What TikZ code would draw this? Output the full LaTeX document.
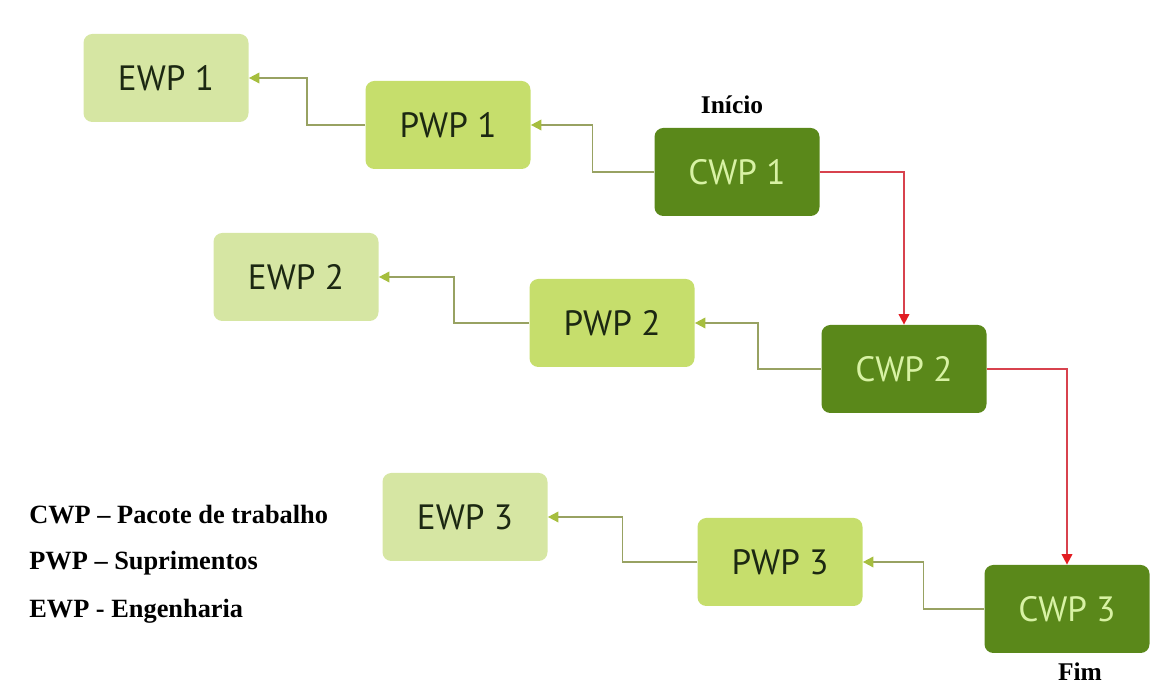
\documentclass[tikz,border=0pt]{standalone}
\usepackage{fontspec}
\setmainfont{Liberation Serif}
\newfontfamily\boxfont{PT Sans}
\usetikzlibrary{arrows.meta,calc,positioning}
\definecolor{ewpfill}{HTML}{D6E6A3}
\definecolor{pwpfill}{HTML}{C6DE6C}
\definecolor{cwpfill}{HTML}{5A881A}
\definecolor{cwptext}{HTML}{D8F2A4}
\definecolor{boxtext}{HTML}{1C2812}
\definecolor{linkline}{HTML}{98A262}
\definecolor{linktip}{HTML}{A6BE3E}
\definecolor{flowline}{HTML}{D8424E}
\definecolor{flowtip}{HTML}{E21C22}
\tikzset{
  pack/.style={rectangle, rounded corners=5pt, minimum width=3.3cm, minimum height=1.76cm,
    font=\boxfont\fontsize{20}{22}\selectfont, align=center},
  ewp/.style={pack, fill=ewpfill, text=boxtext},
  pwp/.style={pack, fill=pwpfill, text=boxtext},
  cwp/.style={pack, fill=cwpfill, text=cwptext},
  link/.style={draw=linkline, line width=1pt,
    -{Triangle[length=6pt,width=6pt,color=linktip]}},
  flow/.style={draw=flowline, line width=1pt,
    -{Triangle[length=6pt,width=6pt,color=flowtip]}},
  mark label/.style={font=\bfseries\fontsize{14.5}{16}\selectfont},
  legend/.style={font=\bfseries\fontsize{15}{17}\selectfont, anchor=west, inner sep=0pt}
}
\begin{document}
\begin{tikzpicture}
\useasboundingbox (0,0) rectangle (23.02,13.72);

\node[ewp] (ewp1) at (3.32,12.16) {EWP 1};
\node[pwp] (pwp1) at (8.96,11.22) {PWP 1};
\node[cwp] (cwp1) at (14.74,10.28) {CWP 1};

\node[ewp] (ewp2) at (5.92,8.18) {EWP 2};
\node[pwp] (pwp2) at (12.24,7.26) {PWP 2};
\node[cwp] (cwp2) at (18.08,6.34) {CWP 2};

\node[ewp] (ewp3) at (9.30,3.38) {EWP 3};
\node[pwp] (pwp3) at (15.60,2.48) {PWP 3};
\node[cwp] (cwp3) at (21.34,1.54) {CWP 3};

\node[mark label] (start) at (14.64,11.62) {Início};
\node[mark label] (finish) at (21.60,0.28) {Fim};

\node[legend] (cwpkey) at (0.58,3.42) {CWP -- Pacote de trabalho};
\node[legend] (pwpkey) at (0.58,2.46) {PWP -- Suprimentos};
\node[legend] (ewpkey) at (0.58,1.50) {EWP - Engenharia};

\draw[link] (pwp1.west) -| ($(pwp1.west)!0.5!(ewp1.east)$) |- (ewp1.east);
\draw[link] (cwp1.west) -| ($(cwp1.west)!0.5!(pwp1.east)$) |- (pwp1.east);
\draw[link] (pwp2.west) -| ($(pwp2.west)!0.5!(ewp2.east)$) |- (ewp2.east);
\draw[link] (cwp2.west) -| ($(cwp2.west)!0.5!(pwp2.east)$) |- (pwp2.east);
\draw[link] (pwp3.west) -| ($(pwp3.west)!0.5!(ewp3.east)$) |- (ewp3.east);
\draw[link] (cwp3.west) -| ($(cwp3.west)!0.5!(pwp3.east)$) |- (pwp3.east);

\draw[flow] (cwp1.east) -| (cwp2.north);
\draw[flow] (cwp2.east) -| (cwp3.north);
\end{tikzpicture}
\end{document}
